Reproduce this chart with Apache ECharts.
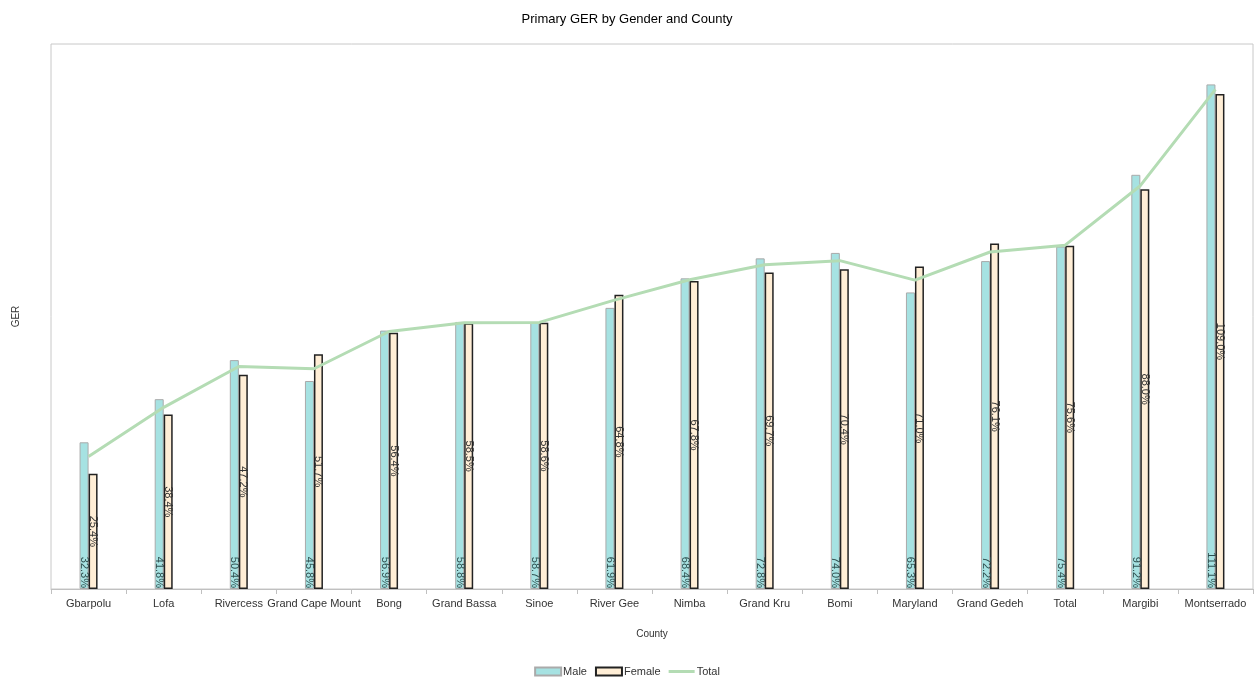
<!DOCTYPE html>
<html>
<head>
<meta charset="utf-8">
<script src="https://cdn.jsdelivr.net/npm/echarts@6/dist/echarts.min.js"></script>
<style>html,body{margin:0;padding:0;background:#fff}#c{width:1254px;height:677px}</style>
</head>
<body>
<div id="c"></div>
<script>
var counties = ["Gbarpolu","Lofa","Rivercess","Grand Cape Mount","Bong","Grand Bassa","Sinoe","River Gee","Nimba","Grand Kru","Bomi","Maryland","Grand Gedeh","Total","Margibi","Montserrado"];
var male = [32.3,41.8,50.4,45.8,56.9,58.8,58.7,61.9,68.4,72.8,74.0,65.3,72.2,75.4,91.2,111.1];
var female = [25.4,38.4,47.2,51.7,56.4,58.5,58.6,64.8,67.8,69.7,70.4,71.0,76.1,75.6,88.0,109.0];
var total = [29.2,40.0,49.0,48.5,56.7,58.6,58.7,63.6,68.1,71.4,72.3,68.0,74.2,75.7,88.8,110.0];

var FONT = "Liberation Sans, Arial, sans-serif";
var chart = echarts.init(document.getElementById('c'), null, {renderer:'canvas'});
chart.setOption({
  animation:false,
  textStyle:{fontFamily:FONT},
  title:{text:'Primary GER by Gender and County',left:'center',top:8,
    textStyle:{fontSize:13,fontWeight:'normal',color:'#000',fontFamily:FONT}},
  legend:{top:661,left:'center',itemWidth:26,itemHeight:8,itemGap:8,
    textStyle:{fontSize:11,color:'#333',fontFamily:FONT,padding:[0,0,0,-3]},
    data:[{name:'Male',icon:'rect'},{name:'Female',icon:'rect'},
          {name:'Total',icon:'path://M0,0h26v3h-26z',itemStyle:{color:'#b4dcb4',borderWidth:0}}]},
  grid:{left:51,right:1,top:44,bottom:88,show:true,borderColor:'#c8c8c8',borderWidth:1,outerBoundsMode:'none',containLabel:false},
  xAxis:{type:'category',data:counties,name:'County',nameLocation:'middle',nameGap:40,
    nameTextStyle:{fontSize:10,color:'#333'},
    axisLine:{lineStyle:{color:'#c0c0c0'}},
    axisTick:{show:true,interval:0,length:5,lineStyle:{color:'#c0c0c0'}},
    axisLabel:{interval:0,fontSize:11,color:'#333',margin:9}},
  yAxis:{type:'value',min:0,max:120,name:'GER',nameLocation:'middle',nameGap:30,
    nameTextStyle:{fontSize:10,color:'#333'},
    axisLine:{show:false},axisTick:{show:false},axisLabel:{show:false},splitLine:{show:false}},
  series:[
    {name:'Male',type:'bar',data:male,barWidth:9,barGap:'0%',
      itemStyle:{color:'#a6e2e2',borderColor:'#aaaaaa',borderWidth:1},
      label:{show:true,position:'insideBottom',rotate:-90,align:'right',verticalAlign:'middle',distance:1,
        fontSize:11,color:'#2f4f4f',formatter:function(p){return p.value.toFixed(1)+'%';}}},
    {name:'Female',type:'bar',data:female,barWidth:9,
      itemStyle:{color:'#ffeed6',borderColor:'#222222',borderWidth:1.5},
      label:{show:true,position:'inside',rotate:-90,align:'center',verticalAlign:'middle',
        fontSize:11,color:'#333',formatter:function(p){return p.value.toFixed(1)+'%';}}},
    {name:'Total',type:'line',data:total,symbol:'none',
      lineStyle:{color:'#b4dcb4',width:3},itemStyle:{color:'#b4dcb4'}}
  ]
});
</script>
</body>
</html>
